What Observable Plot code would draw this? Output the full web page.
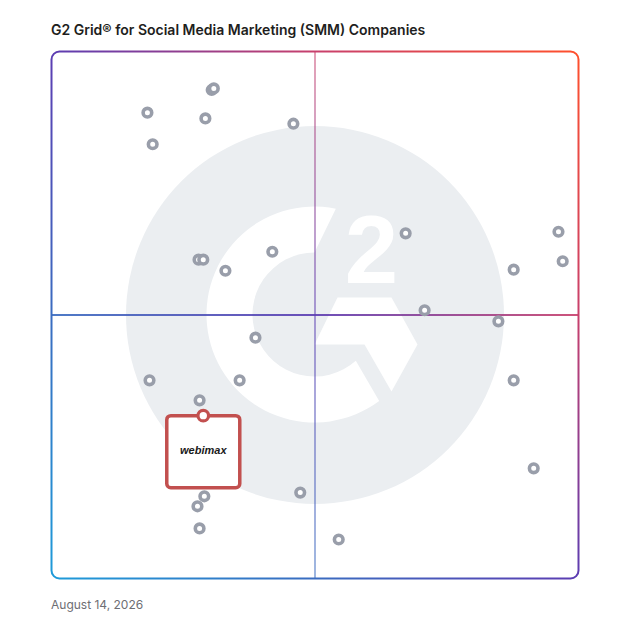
<!DOCTYPE html>
<html>
<head>
<meta charset="utf-8">
<script src="https://cdn.jsdelivr.net/npm/d3@7"></script>
<script src="https://cdn.jsdelivr.net/npm/@observablehq/plot@0.6"></script>
<style>
  body { margin: 0; background: #fff; }
  #wrap { position: relative; width: 628px; height: 628px; overflow: hidden; }
  #chart svg { position: absolute; left: 0; top: 0; }
  #title { position: absolute; left: 51px; top: 23px; font: 600 14px Inter, "Noto Sans", sans-serif; line-height: 14px; color: #1e1e20; white-space: nowrap; }
  #date { position: absolute; left: 51px; top: 599px; font: 400 12px Inter, "Noto Sans", sans-serif; line-height: 12px; color: #6e6e73; white-space: nowrap; }
</style>
</head>
<body>
<div id="wrap">
  <div id="chart"></div>
  <div id="title">G2 Grid® for Social Media Marketing (SMM) Companies</div>
  <div id="date">August 14, 2026</div>
</div>
<script>
// Satisfaction (x) and Market Presence (y), 0–100 scale, 50 = quadrant split
const satisfaction   = [18.2, 30.4, 30.8, 29.2, 19.2, 45.9, 27.9, 28.8, 33.0, 41.9, 67.2, 96.2, 97.0, 87.7, 70.8, 84.8, 38.7, 18.6, 35.7, 87.7, 28.1, 91.5, 47.2, 29.0, 27.7, 28.1, 54.5];
const marketPresence = [88.4, 92.7, 93.0, 87.3, 82.4, 86.3, 60.5, 60.5, 58.4, 62.0, 65.5, 65.8, 60.2, 58.6, 50.9, 48.8, 45.7, 37.6, 37.6, 37.6, 33.8, 20.9, 16.3, 15.6, 13.7, 9.5, 7.4];
const highlightName = ["webimax"];
const highlightX = [28.8];
const highlightY = [30.9];

const points = satisfaction.map((x, i) => ({x, y: marketPresence[i]}));
const highlight = highlightName.map((name, i) => ({name, x: highlightX[i], y: highlightY[i]}));

const RED = "#c2504f";
const GRAY = "#999eaa";

// gradient definitions for frame and quadrant lines
function defs(index, scales, values, dim) {
  const x1 = dim.marginLeft, x2 = dim.width - dim.marginRight;
  const y1 = dim.height - dim.marginBottom, y2 = dim.marginTop;
  const d = d3.create("svg:defs");
  const lg = d.append("linearGradient").attr("id", "g2grad")
    .attr("gradientUnits", "userSpaceOnUse")
    .attr("x1", x1).attr("y1", y1).attr("x2", x2).attr("y2", y2);
  [[0, "#1e9bd9"], [0.25, "#3a6cc0"], [0.5, "#5c3db2"], [0.75, "#c8406c"], [1, "#ff502c"]]
    .forEach(([o, c]) => lg.append("stop").attr("offset", o).attr("stop-color", c));
  return d.node();
}

// G2 watermark (white shapes over the grey disc)
function watermark(index, scales) {
  const cx = scales.x(50), cy = scales.y(50);
  const deg = Math.PI / 180;
  const g = d3.create("svg:g").attr("fill", "#fff");
  const R = 108, r = 62;
  const a0 = -78.6 * deg, a1 = 53.2 * deg, b1 = 48.2 * deg, b0 = -90 * deg;
  const p = d3.path();
  p.moveTo(cx + R * Math.cos(a0), cy + R * Math.sin(a0));
  p.arc(cx, cy, R, a0, a1, true);
  p.lineTo(cx + r * Math.cos(b1), cy + r * Math.sin(b1));
  p.arc(cx, cy, r, b1, b0, false);
  p.closePath();
  g.append("path").attr("d", p.toString());
  const chev = [[0, 30], [23, -17], [77, -17], [103, 30], [77, 77], [50, 30]];
  g.append("path").attr("d", "M" + chev.map(([dx, dy]) => `${cx + dx},${cy + dy}`).join("L") + "Z");
  g.append("text").attr("x", cx + 57).attr("y", cy - 32)
    .attr("text-anchor", "middle")
    .attr("font-family", "Liberation Sans, Arial, sans-serif")
    .attr("font-weight", 700).attr("font-size", 96).text("2");
  return g.node();
}

// rounded box hanging below the highlighted point
const boxSymbol = {
  draw(ctx) {
    const w = 36.5, h = 72, k = 4;
    ctx.moveTo(-w + k, 0);
    ctx.lineTo(w - k, 0);
    ctx.arcTo(w, 0, w, k, k);
    ctx.lineTo(w, h - k);
    ctx.arcTo(w, h, w - k, h, k);
    ctx.lineTo(-w + k, h);
    ctx.arcTo(-w, h, -w, h - k, k);
    ctx.lineTo(-w, k);
    ctx.arcTo(-w, 0, -w + k, 0, k);
    ctx.closePath();
  }
};

const chart = Plot.plot({
  width: 628,
  height: 628,
  marginTop: 51,
  marginLeft: 51,
  marginRight: 50,
  marginBottom: 50,
  x: {domain: [0, 100], axis: null},
  y: {domain: [0, 100], axis: null},
  style: {background: "transparent", overflow: "visible"},
  marks: [
    defs,
    Plot.dot([{x: 50, y: 50}], {x: "x", y: "y", r: 189, fill: "#ebeef1"}),
    watermark,
    Plot.frame({stroke: "url(#g2grad)", strokeWidth: 2, rx: 8, ry: 8}),
    Plot.ruleX([50], {stroke: "url(#g2grad)", strokeWidth: 1.8, strokeOpacity: 0.55}),
    Plot.ruleY([50], {stroke: "url(#g2grad)", strokeWidth: 2, strokeOpacity: 0.9}),
    Plot.dot(points, {x: "x", y: "y", r: 4.3, stroke: GRAY, strokeWidth: 3.6, fill: "white"}),
    Plot.dot(highlight, {x: "x", y: "y", symbol: boxSymbol, stroke: RED, strokeWidth: 3.5, fill: "white"}),
    Plot.dot(highlight, {x: "x", y: "y", r: 5.3, stroke: RED, strokeWidth: 3.2, fill: "white"}),
    Plot.text(highlight, {x: "x", y: "y", text: "name", dy: 35, fontSize: 11, fontStyle: "italic", fontWeight: 700, fill: "#1a1a1a", fontFamily: "Liberation Sans, Arial, sans-serif", letterSpacing: "0.5px"})
  ]
});
document.getElementById("chart").appendChild(chart);
</script>
</body>
</html>
